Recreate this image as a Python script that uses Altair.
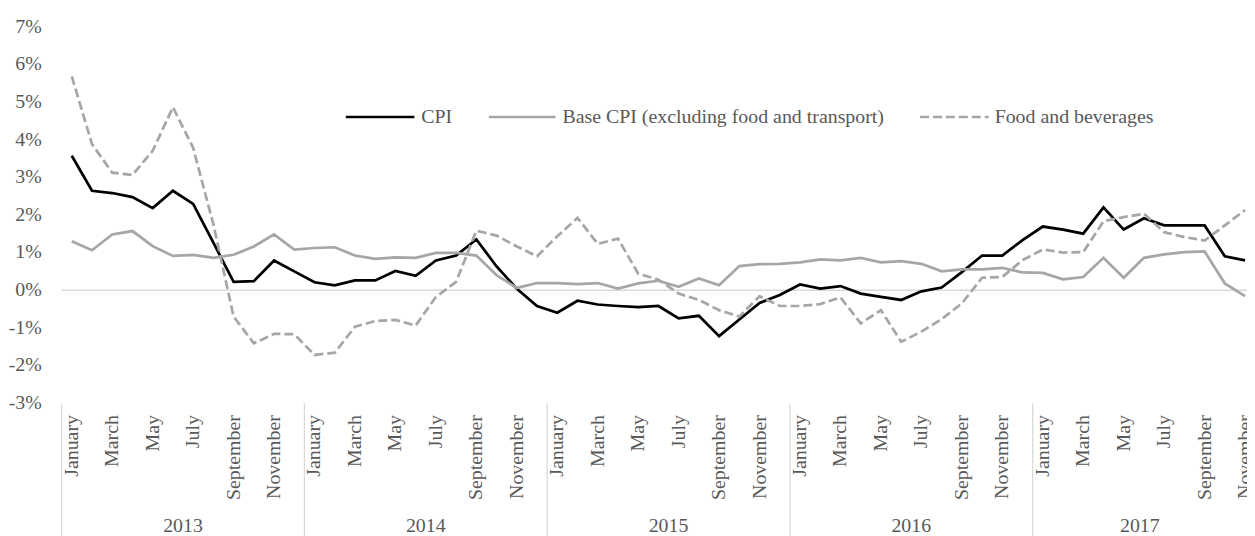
import altair as alt
import pandas as pd

month_names = ["January", "February", "March", "April", "May", "June", "July",
               "August", "September", "October", "November", "December"]
years = [2013, 2014, 2015, 2016, 2017]
y_ticks = [-3, -2, -1, 0, 1, 2, 3, 4, 5, 6, 7]

cpi = [3.57, 2.64, 2.58, 2.47, 2.18, 2.64, 2.29, 1.26, 0.22, 0.24, 0.79, 0.50,
       0.21, 0.13, 0.26, 0.26, 0.51, 0.38, 0.79, 0.92, 1.35, 0.63, 0.04, -0.42,
       -0.60, -0.28, -0.38, -0.42, -0.45, -0.42, -0.75, -0.68, -1.22, -0.78, -0.34, -0.13,
       0.15, 0.04, 0.11, -0.09, -0.18, -0.26, -0.03, 0.07, 0.48, 0.92, 0.92, 1.33,
       1.69, 1.61, 1.50, 2.20, 1.61, 1.91, 1.72, 1.72, 1.72, 0.90, 0.79]
base = [1.30, 1.06, 1.48, 1.57, 1.17, 0.91, 0.94, 0.86, 0.94, 1.16, 1.48, 1.08,
        1.12, 1.14, 0.92, 0.83, 0.87, 0.86, 0.99, 0.99, 0.92, 0.40, 0.06, 0.19,
        0.19, 0.16, 0.19, 0.04, 0.18, 0.25, 0.09, 0.31, 0.13, 0.64, 0.69, 0.70,
        0.74, 0.82, 0.79, 0.86, 0.74, 0.77, 0.70, 0.50, 0.55, 0.55, 0.59, 0.47,
        0.46, 0.29, 0.35, 0.86, 0.33, 0.86, 0.95, 1.01, 1.03, 0.18, -0.16]
food = [5.68, 3.88, 3.12, 3.06, 3.70, 4.86, 3.78, 1.75, -0.70, -1.41, -1.16, -1.17,
        -1.72, -1.66, -0.97, -0.82, -0.79, -0.94, -0.18, 0.22, 1.58, 1.45, 1.16, 0.90,
        1.43, 1.92, 1.23, 1.37, 0.44, 0.28, -0.09, -0.26, -0.53, -0.70, -0.16, -0.42,
        -0.42, -0.37, -0.19, -0.88, -0.53, -1.37, -1.10, -0.77, -0.35, 0.33, 0.35, 0.80,
        1.08, 1.00, 1.01, 1.83, 1.94, 2.03, 1.54, 1.41, 1.32, 1.72, 2.13]

series_names = ["CPI", "Base CPI (excluding food and transport)", "Food and beverages"]

FONT = "Liberation Serif"
FS = 20
TXT = "#595959"
GRAY = "#A6A6A6"
W, H = 1193, 379
MONTH_PX = 20.36
XMAX = -0.5 + W / MONTH_PX

n = len(cpi)
df = pd.DataFrame({"i": list(range(n)), "cpi": cpi, "base": base, "food": food})

xs = alt.Scale(domain=[-0.5, XMAX], nice=False, zero=False)
ys = alt.Scale(domain=[y_ticks[0], y_ticks[-1]], nice=False, zero=False)


def series_line(field, color, dash=None):
    kw = dict(color=color, strokeWidth=2.75, strokeCap="butt", strokeJoin="miter")
    if dash:
        kw["strokeDash"] = dash
    return alt.Chart(df).mark_line(**kw).encode(
        x=alt.X("i:Q", scale=xs, axis=None),
        y=alt.Y(f"{field}:Q", scale=ys, axis=None),
    )


zero = alt.Chart(pd.DataFrame({"v": [0]})).mark_rule(color="#D9D9D9", strokeWidth=1.5).encode(
    y=alt.Y("v:Q", scale=ys, axis=None), x=alt.value(0), x2=alt.value(W)
)

ylab_df = pd.DataFrame({"v": y_ticks, "t": [f"{v}%" for v in y_ticks]})
ylabels = alt.Chart(ylab_df).mark_text(
    align="right", baseline="middle", font=FONT, fontSize=FS, color=TXT
).encode(y=alt.Y("v:Q", scale=ys, axis=None), x=alt.value(-20), text="t:N")

mlab_df = pd.DataFrame({
    "i": [i for i in range(n) if i % 2 == 0],
    "t": [month_names[i % 12] for i in range(n) if i % 2 == 0],
})
mlabels = alt.Chart(mlab_df).mark_text(
    align="right", baseline="middle", angle=270, font=FONT, fontSize=FS, color=TXT
).encode(x=alt.X("i:Q", scale=xs, axis=None), y=alt.value(H + 12), text="t:N")

bounds = [-0.5 + 12 * k for k in range(len(years))]
sep_df = pd.DataFrame({"b": bounds})
seps = alt.Chart(sep_df).mark_rule(color="#D9D9D9", strokeWidth=1.25).encode(
    x=alt.X("b:Q", scale=xs, axis=None), y=alt.value(H), y2=alt.value(H + 140)
)

year_df = pd.DataFrame({
    "c": [(b + min(b + 12, XMAX)) / 2 for b in bounds],
    "t": [str(y) for y in years],
})
ylabs2 = alt.Chart(year_df).mark_text(
    align="center", baseline="middle", font=FONT, fontSize=FS, color=TXT
).encode(x=alt.X("c:Q", scale=xs, axis=None), y=alt.value(H + 124), text="t:N")

# legend
one = pd.DataFrame({"k": [0]})
LEG_Y = 91
leg_sym = [(286, 355), (430, 497), (864, 933)]
leg_txt = [362, 504, 939]
leg_style = [dict(color="black"), dict(color=GRAY), dict(color=GRAY, strokeDash=[9, 4])]
legend_layers = []
for (x0, x1), tx, st, name in zip(leg_sym, leg_txt, leg_style, series_names):
    legend_layers.append(
        alt.Chart(one).mark_rule(strokeWidth=2.75, strokeCap="butt", **st).encode(
            x=alt.value(x0), x2=alt.value(x1), y=alt.value(LEG_Y)
        )
    )
    legend_layers.append(
        alt.Chart(one).mark_text(
            align="left", baseline="middle", font=FONT, fontSize=FS, color=TXT, text=name
        ).encode(x=alt.value(tx), y=alt.value(LEG_Y))
    )

chart = alt.layer(
    zero, seps, ylabels, mlabels, ylabs2,
    series_line("cpi", "black"),
    series_line("base", GRAY),
    series_line("food", GRAY, dash=[9, 4]),
    *legend_layers,
).properties(
    width=W, height=H,
    autosize=alt.AutoSizeParams(type="none"),
    padding={"left": 54, "top": 17, "right": 0, "bottom": 132},
).configure_view(strokeWidth=0)

chart.save("out.html", embed_options={"renderer": "svg", "actions": False})
